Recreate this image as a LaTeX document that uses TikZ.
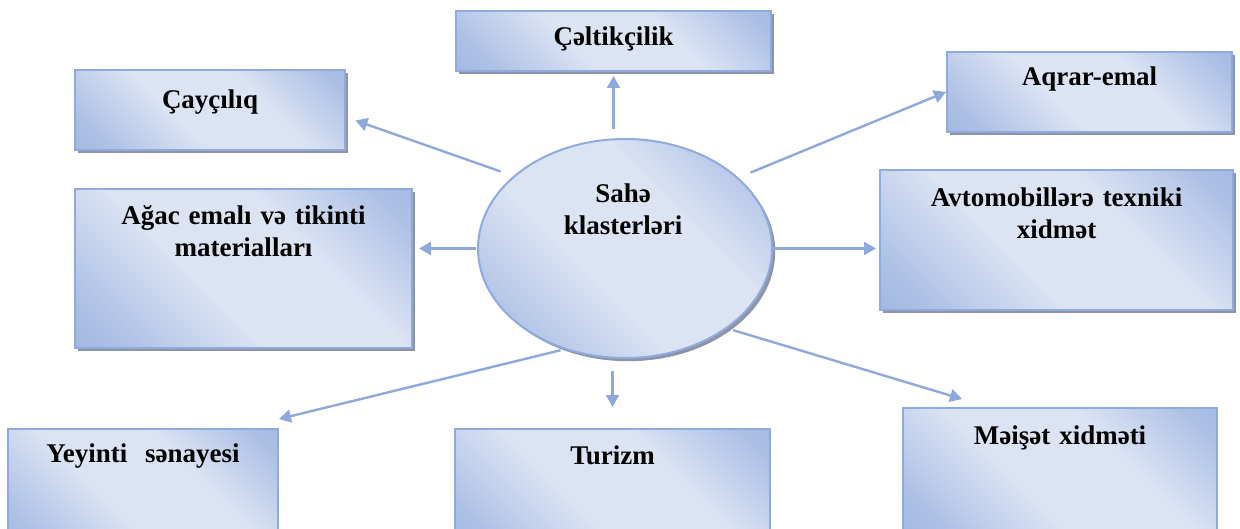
\documentclass[tikz,border=0pt]{standalone}
\usepackage{fontspec}
\setmainfont{Liberation Serif}
\usetikzlibrary{positioning,calc,shadows,arrows.meta,shapes.geometric}
\definecolor{bdark}{RGB}{142,169,219}
\definecolor{blight}{RGB}{220,228,244}
\definecolor{bline}{RGB}{143,171,221}
\definecolor{shgray}{RGB}{140,148,166}
\pgfdeclarehorizontalshading{diagband}{100bp}{color(0bp)=(bdark); color(22bp)=(bdark!60!blight); color(42bp)=(blight); color(62bp)=(blight); color(80bp)=(bdark!60!blight); color(100bp)=(bdark)}

\begin{document}
\begin{tikzpicture}[x=0.5pt, y=-0.5pt,
	boxstyle/.style={rectangle, draw=bline, line width=1pt, shading=diagband, shading angle=45, inner sep=0pt},
	shadowed/.style={drop shadow={shadow xshift=1.6pt, shadow yshift=-1.6pt, fill=shgray, opacity=1}},
	txt/.style={font=\bfseries\fontsize{13.5}{16}\selectfont, align=center, text width=170pt, anchor=base, inner sep=0pt},
	arr/.style={-{Triangle[length=6pt,width=6.5pt]}, draw=bdark, line width=1.2pt}
	]
	\clip (0,0) rectangle (1240,529);
	
	% centre
	\node[boxstyle, ellipse, shadowed, minimum width=147pt, minimum height=109.5pt] (ell) at (625,248.5) {};
	\node[txt] (ell-t) at ($(ell.north)+(-2,65)$) {Sahə\\klasterləri};
	
	% boxes
	\node[boxstyle, shadowed, minimum width=157.5pt, minimum height=30pt] (celt) at (613.5,41) {};
	\node[boxstyle, shadowed, minimum width=135pt, minimum height=40pt] (cay) at (210,110) {};
	\node[boxstyle, shadowed, minimum width=142.5pt, minimum height=40pt] (aqr) at (1089.5,92) {};
	\node[boxstyle, shadowed, minimum width=168.5pt, minimum height=79.5pt] (agac) at (243.5,268.5) {};
	\node[boxstyle, shadowed, minimum width=176.5pt, minimum height=70pt] (avto) at (1056.5,240) {};
	\node[boxstyle, minimum width=135pt, minimum height=60pt] (yey) at (143,489) {};
	\node[boxstyle, minimum width=157.5pt, minimum height=60pt] (tur) at (612.5,489) {};
	\node[boxstyle, minimum width=157pt, minimum height=63.5pt] (mei) at (1060,471.5) {};
	
	% texts
	\node[txt] (celt-t) at ($(celt.north)+(0,36)$) {Çəltikçilik};
	\node[txt] (cay-t) at ($(cay.north)+(0,40)$) {Çayçılıq};
	\node[txt] (aqr-t) at ($(aqr.north)+(0,35)$) {Aqrar-emal};
	\node[txt] (agac-t) at ($(agac.north)+(0,37)$) {Ağac emalı və tikinti\\materialları};
	\node[txt] (avto-t) at ($(avto.north)+(0,37)$) {Avtomobillərə texniki\\xidmət};
	\node[txt] (yey-t) at ($(yey.north)+(0,34)$) {Yeyinti\ \ sənayesi};
	\node[txt] (tur-t) at ($(tur.north)+(0,36)$) {Turizm};
	\node[txt] (mei-t) at ($(mei.north)+(0,37)$) {Məişət xidməti};
	
	% arrows
	\draw[arr, shorten <=4.5pt, shorten >=2pt] (ell.north -| celt.south) -- (celt.south);
	\draw[arr, shorten <=6pt, shorten >=10.5pt] (ell.south -| tur.north) -- (tur.north);
	\draw[arr, shorten <=0.5pt, shorten >=3pt] (ell.west) -- (ell.west -| agac.east);
	\draw[arr, shorten >=1.5pt] (ell.east) -- (ell.east -| avto.west);
	\draw[arr, shorten <=6.7pt, shorten >=5pt] (ell.147.5) -- (cay.-3);
	\draw[arr, shorten <=6.5pt] (ell.32.8) -- (aqr.west);
	\draw[arr, shorten <=2pt] (ell.239) -- ($(yey.north east)+(0,-9)$);
	\draw[arr, shorten <=3pt] (ell.-38.5) -- ($(mei.north west)+(60,-8)$);
\end{tikzpicture}
\end{document}
